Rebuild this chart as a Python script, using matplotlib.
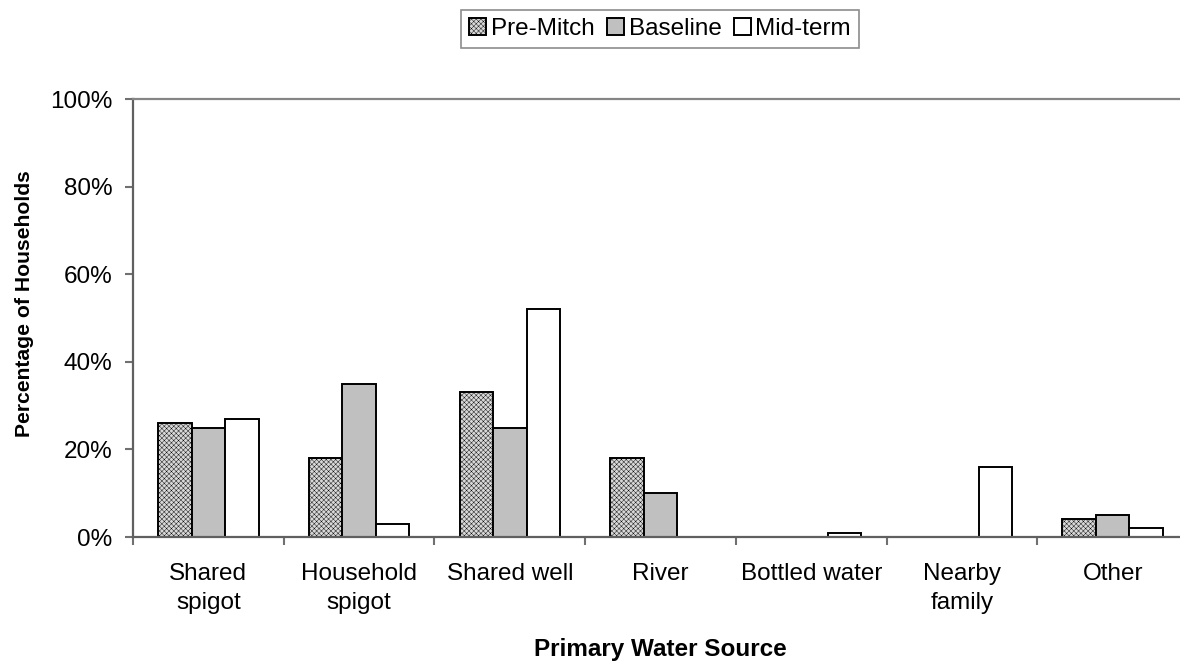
import matplotlib
matplotlib.use("Agg")
import matplotlib.pyplot as plt
import numpy as np

categories = ["Shared\nspigot", "Household\nspigot", "Shared well", "River",
              "Bottled water", "Nearby\nfamily", "Other"]
pre_mitch = [26, 18, 33, 18, 0, 0, 4]
baseline = [25, 35, 25, 10, 0, 0, 5]
mid_term = [27, 3, 52, 0, 1, 16, 2]
series_names = ["Pre-Mitch", "Baseline", "Mid-term"]
yticks = [0, 20, 40, 60, 80, 100]
ytick_labels = ["0%", "20%", "40%", "60%", "80%", "100%"]

plt.rcParams['font.family'] = ['Liberation Sans', 'DejaVu Sans']
plt.rcParams['hatch.linewidth'] = 0.3
plt.rcParams['hatch.color'] = '#bebebe'

FS = 17.5
fig = plt.figure(figsize=(11.8, 6.62), dpi=100)
W, H = 1180, 662
left_px, right_px, top_px, bot_px = 133, 1188, 99, 537
ax = fig.add_axes([left_px / W, 1 - bot_px / H, (right_px - left_px) / W, (bot_px - top_px) / H])

x = np.arange(len(categories))
bw = 0.222
ax.bar(x - bw, pre_mitch, bw, facecolor='#d8d8d8', edgecolor='black', linewidth=1.4,
       hatch='xxxxxxx', label=series_names[0])
ax.bar(x, baseline, bw, facecolor='#c0c0c0', edgecolor='black', linewidth=1.4,
       label=series_names[1])
ax.bar(x + bw, mid_term, bw, facecolor='white', edgecolor='black', linewidth=1.4,
       label=series_names[2])

ax.set_xlim(-0.5, len(categories) - 0.5)
ax.set_ylim(0, 100)
ax.set_yticks(yticks)
ax.set_yticklabels(ytick_labels, fontsize=FS)
ax.set_xticks(x)
ax.set_xticklabels(categories, fontsize=FS, linespacing=1.4)
ax.set_xticks(np.arange(-0.5, len(categories)), minor=True)
ax.tick_params(axis='x', which='major', length=0, pad=19)
ax.tick_params(axis='x', which='minor', length=6, color='#707070', width=1.5)
ax.tick_params(axis='y', length=6, color='#707070', width=1.5, pad=9)

for s in ['left', 'bottom']:
    ax.spines[s].set_color('#606060')
    ax.spines[s].set_linewidth(1.6)
ax.spines['top'].set_color('#858585')
ax.spines['top'].set_linewidth(1.6)
ax.spines['right'].set_visible(False)

ax.set_ylabel("Percentage of Households", fontsize=15.2, fontweight='bold')
ax.yaxis.set_label_coords((34 - left_px) / (right_px - left_px),
                          (bot_px - 304) / (bot_px - top_px))
ax.set_xlabel("Primary Water Source", fontsize=FS, fontweight='bold', labelpad=17)

leg = fig.legend(loc='center', bbox_to_anchor=(660 / W, 1 - 29 / H), ncol=3, fontsize=FS,
                 frameon=True, fancybox=False, edgecolor='#707070',
                 handlelength=0.7, handleheight=0.7, handletextpad=0.2,
                 columnspacing=0.5, borderpad=0.32)
leg.get_frame().set_linewidth(1.2)

fig.savefig("out.png", dpi=100)
